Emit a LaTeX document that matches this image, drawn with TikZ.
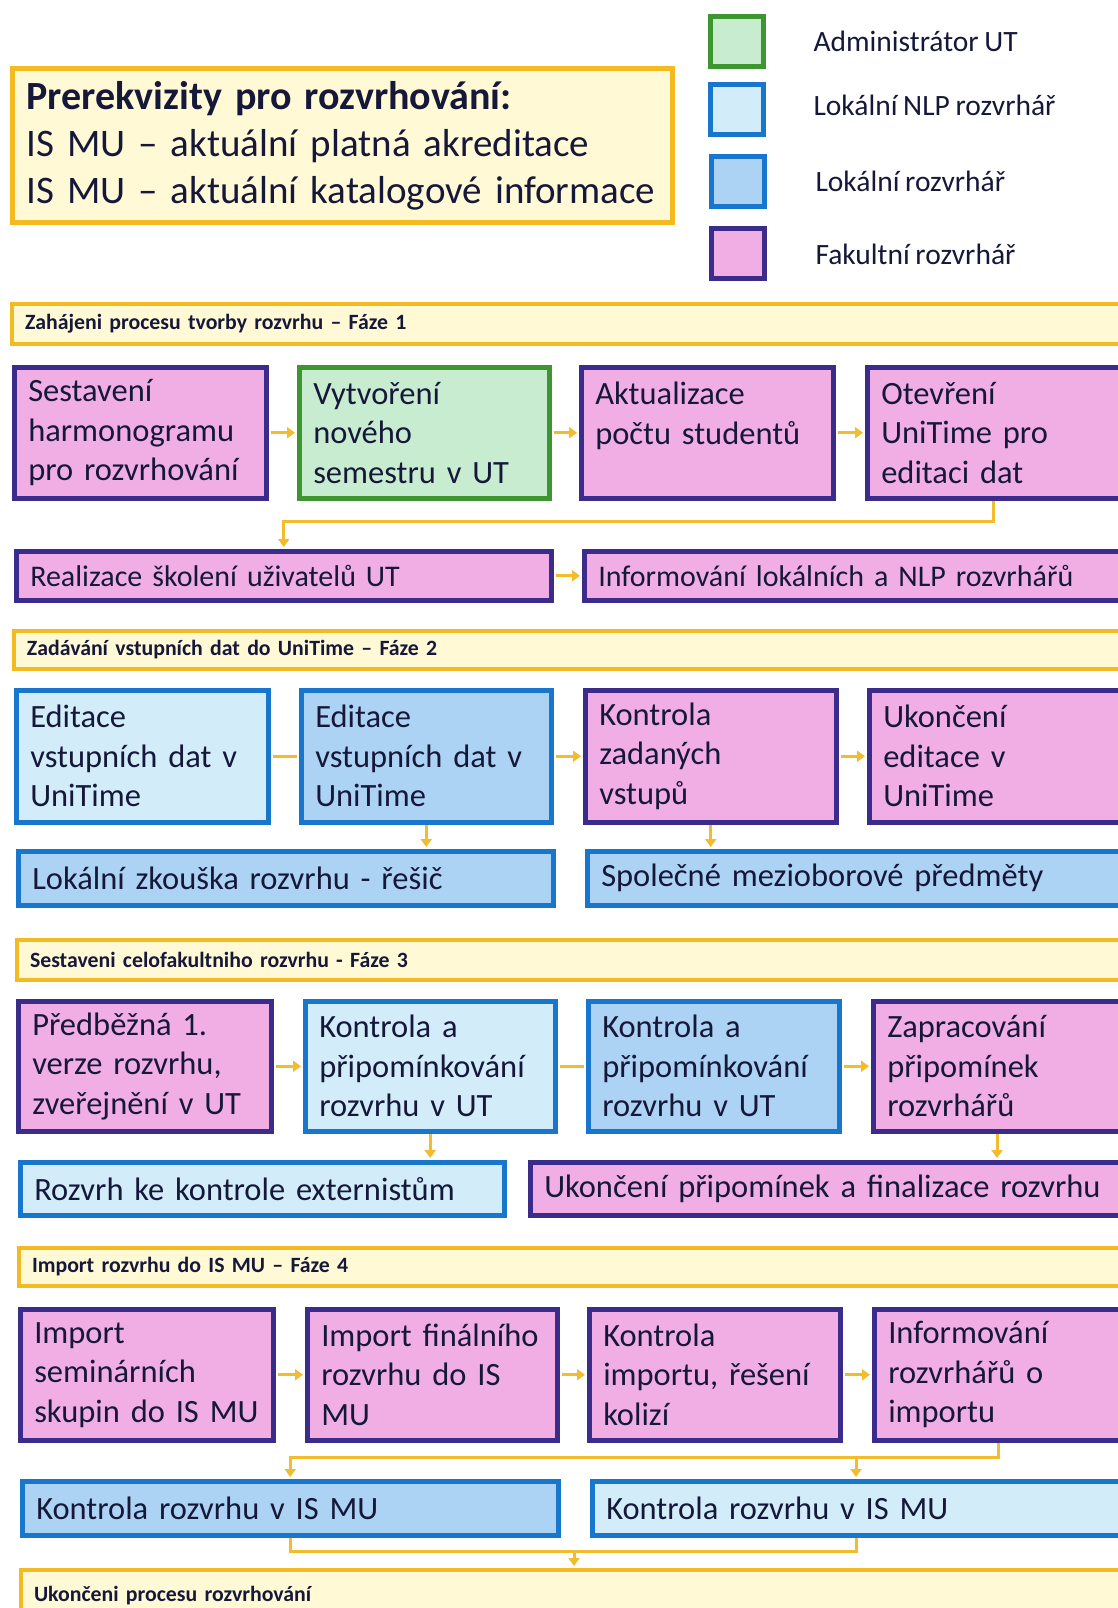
\documentclass[tikz,border=0pt]{standalone}
\usepackage{fontspec}
\setmainfont{Carlito}[WordSpace=0.85]
\usetikzlibrary{arrows.meta,calc}
\definecolor{pinkf}{HTML}{F1AEE4}
\definecolor{purb}{HTML}{3B2C8C}
\definecolor{greenf}{HTML}{C8ECD0}
\definecolor{greenb}{HTML}{3E9630}
\definecolor{lbluef}{HTML}{D2ECFA}
\definecolor{mbluef}{HTML}{ACD2F4}
\definecolor{blueb}{HTML}{1876CC}
\definecolor{hdrf}{HTML}{FFF9D6}
\definecolor{orng}{HTML}{F4BA22}
\definecolor{arrc}{HTML}{F2BC2C}
\definecolor{txt}{HTML}{16183A}
\newcommand{\boxfont}{\fontsize{32.5}{39.5}\selectfont}
\newcommand{\smallboxfont}{\fontsize{30}{36}\selectfont}
\begin{document}
\begin{tikzpicture}[x=1pt,y=-1pt,
  every node/.style={text=txt},
  bx/.style n args={2}{anchor=north west, line width=4.5pt, inner xsep=14pt, inner ysep=0pt,
     align=left, font=\boxfont, text width=#1, minimum height=#2},
  pinkbox/.style={draw=purb, fill=pinkf},
  greenbox/.style={draw=greenb, fill=greenf},
  lbluebox/.style={draw=blueb, fill=lbluef},
  mbluebox/.style={draw=blueb, fill=mbluef},
  hdr/.style n args={2}{anchor=north west, draw=orng, fill=hdrf, line width=4pt, inner xsep=13pt,
     inner ysep=0pt, align=left, font=\fontsize{21.8}{24}\selectfont\bfseries, text width=#1, minimum height=#2},
  leg/.style={anchor=north west, line width=5pt, minimum width=53pt, minimum height=50pt, inner sep=0pt},
  legtext/.style={anchor=west, font=\fontsize{29.5}{32}\selectfont},
  harr/.style={draw=arrc, line width=3pt, -{Triangle[length=8pt,width=11pt]}, shorten <=2pt, shorten >=2pt},
  hline/.style={draw=arrc, line width=3pt, shorten <=2pt, shorten >=2pt},
  conn/.style={draw=arrc, line width=3pt},
  varr/.style={draw=arrc, line width=3pt, -{Triangle[length=8pt,width=11pt]}, shorten >=2pt}
]
\useasboundingbox (0,0) rectangle (1118,1608);
\clip (0,0) rectangle (1118,1608);
\fill[white] (0,0) rectangle (1118,1608);

% ---------- prerequisites ----------
\node[anchor=north west, draw=orng, fill=hdrf, line width=5pt, inner xsep=14pt, inner ysep=0pt,
  align=left, text width=632pt, minimum height=154pt, font=\fontsize{39}{47}\selectfont] (prq) at (10,66)
  {{\fontsize{40}{47}\selectfont\bfseries Prerekvizity pro rozvrhování:}\\IS MU – aktuální platná akreditace\\IS MU – aktuální katalogové informace};

% ---------- legend ----------
\node[leg, draw=greenb, fill=greenf] (lg1) at (708,14) {};
\node[leg, draw=blueb, fill=lbluef] (lg2) at (708,82) {};
\node[leg, draw=blueb, fill=mbluef] (lg3) at (709,154) {};
\node[leg, draw=purb, fill=pinkf] (lg4) at (709,226) {};
\node[legtext] (lt1) at (810,41) {Administrátor UT};
\node[legtext] (lt2) at (810,105) {Lokální NLP rozvrhář};
\node[legtext] (lt3) at (812,181) {Lokální rozvrhář};
\node[legtext] (lt4) at (812,254) {Fakultní rozvrhář};

% ---------- phase 1 ----------
\node[hdr={1100pt}{40pt}] (h1) at (10,302) {Zahájeni procesu tvorby rozvrhu – Fáze 1};
\node[bx={224pt}{131pt}, pinkbox] (s1) at (12,365) {Sestavení\\harmonogramu\\pro rozvrhování};
\node[bx={222pt}{131pt}, greenbox] (v1) at (297,365) {Vytvoření\\nového\\semestru v UT};
\node[bx={224pt}{131pt}, pinkbox] (a1) at (579,365) {Aktualizace\\počtu studentů\\\mbox{}};
\node[bx={237pt}{131pt}, pinkbox] (o1) at (865,365) {Otevření\\UniTime pro\\editaci dat};
\node[bx={507pt}{49pt}, pinkbox, font=\smallboxfont] (r1) at (14,549) {Realizace školení uživatelů UT};
\node[bx={522pt}{49pt}, pinkbox, font=\smallboxfont] (n1) at (582,549) {Informování lokálních a NLP rozvrhářů};
\draw[harr] (s1.east) -- (v1.west);
\draw[harr] (v1.east) -- (a1.west);
\draw[harr] (a1.east) -- (o1.west);
\draw[harr] (r1.east) -- (n1.west);
\coordinate (x1) at (993,0);
\coordinate (j1) at (0,521);
\draw[varr] (o1.south -| x1) |- (r1.north |- j1) -- (r1.north);

% ---------- phase 2 ----------
\node[hdr={1100pt}{38pt}] (h2) at (12,629) {Zadávání vstupních dat do UniTime – Fáze 2};
\node[bx={224pt}{132pt}, lbluebox] (e1) at (14,688) {Editace\\vstupních dat v\\UniTime};
\node[bx={222pt}{132pt}, mbluebox] (e2) at (299,688) {Editace\\vstupních dat v\\UniTime};
\node[bx={223pt}{132pt}, pinkbox] (k2) at (583,688) {Kontrola\\zadaných\\vstupů};
\node[bx={237pt}{132pt}, pinkbox] (u2) at (867,688) {Ukončení\\editace v\\UniTime};
\node[bx={507pt}{54pt}, mbluebox] (l2) at (16,849) {Lokální zkouška rozvrhu - řešič};
\node[bx={522pt}{54pt}, mbluebox] (sp2) at (585,849) {Společné mezioborové předměty};
\draw[hline] (e1.east) -- (e2.west);
\draw[harr] (e2.east) -- (k2.west);
\draw[harr] (k2.east) -- (u2.west);
\draw[varr] (e2.south) -- (e2.south |- l2.north);
\draw[varr] (k2.south) -- (k2.south |- sp2.north);

% ---------- phase 3 ----------
\node[hdr={1100pt}{40pt}] (h3) at (15,938) {Sestaveni celofakultniho rozvrhu -  Fáze 3};
\node[bx={225pt}{130pt}, pinkbox] (p3) at (16,999) {Předběžná 1.\\verze rozvrhu,\\zveřejnění v UT};
\node[bx={222pt}{130pt}, lbluebox] (c3a) at (303,999) {Kontrola a\\připomínkování\\rozvrhu v UT};
\node[bx={223pt}{130pt}, mbluebox] (c3b) at (586,999) {Kontrola a\\připomínkování\\rozvrhu v UT};
\node[bx={237pt}{130pt}, pinkbox] (z3) at (871,999) {Zapracování\\připomínek\\rozvrhářů};
\node[bx={456pt}{53pt}, lbluebox] (rz3) at (18,1160) {Rozvrh ke kontrole externistům};
\node[bx={572pt}{53pt}, pinkbox] (uk3) at (528,1160) {Ukončení připomínek a finalizace rozvrhu};
\draw[harr] (p3.east) -- (c3a.west);
\draw[hline] (c3a.east) -- (c3b.west);
\draw[harr] (c3b.east) -- (z3.west);
\coordinate (x3) at (997,0);
\draw[varr] (c3a.south) -- (c3a.south |- rz3.north);
\draw[varr] (z3.south -| x3) -- (uk3.north -| x3);

% ---------- phase 4 ----------
\node[hdr={1100pt}{38pt}] (h4) at (17,1246) {Import rozvrhu do IS MU – Fáze 4};
\node[bx={225pt}{131pt}, pinkbox] (i4a) at (18,1307) {Import\\seminárních\\skupin do IS MU};
\node[bx={222pt}{131pt}, pinkbox] (i4b) at (305,1307) {Import finálního\\rozvrhu do IS\\MU};
\node[bx={223pt}{131pt}, pinkbox] (i4c) at (587,1307) {Kontrola\\importu, řešení\\kolizí};
\node[bx={237pt}{131pt}, pinkbox] (i4d) at (872,1307) {Informování\\rozvrhářů o\\importu};
\node[bx={508pt}{54pt}, mbluebox] (k4a) at (20,1479) {Kontrola rozvrhu v IS MU};
\node[bx={512pt}{54pt}, lbluebox] (k4b) at (590,1479) {Kontrola rozvrhu v IS MU};
\draw[harr] (i4a.east) -- (i4b.west);
\draw[harr] (i4b.east) -- (i4c.west);
\draw[harr] (i4c.east) -- (i4d.west);
\coordinate (x4) at (998,0);
\coordinate (x4b) at (856,0);
\coordinate (x4c) at (574,0);
\coordinate (j4) at (0,1457);
\coordinate (j5) at (0,1551);
\draw[varr] (i4d.south -| x4) |- (k4a.north |- j4) -- (k4a.north);
\draw[varr] (j4 -| x4b) -- (k4b.north -| x4b);

% ---------- final ----------
\node[hdr={1100pt}{52pt}] (fin) at (19,1568) {Ukončeni procesu rozvrhování};
\draw[conn] (k4a.south) |- (j5 -| x4b) -- (k4b.south -| x4b);
\draw[varr] (j5 -| x4c) -- (fin.north -| x4c);
\end{tikzpicture}
\end{document}
